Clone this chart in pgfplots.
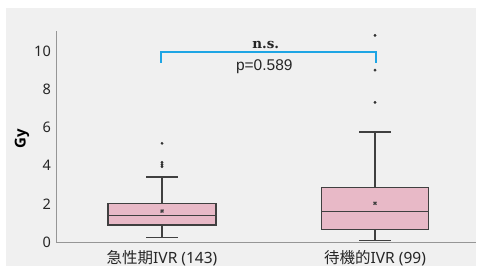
\documentclass[border=0pt]{standalone}
\usepackage{fontspec}
\setmainfont{Noto Sans}
\newfontfamily\cjk{Noto Sans CJK JP}
\newfontfamily\slabfont{DejaVu Serif}
\newfontfamily\pfont{Liberation Sans}
\newfontfamily\gyfont{Open Sans}
\usepackage{pgfplots}
\pgfplotsset{compat=1.18}
\usepgfplotslibrary{statistics}
\definecolor{bgcol}{RGB}{240,240,240}
\definecolor{axiscol}{RGB}{150,150,150}
\definecolor{boxedge}{RGB}{64,64,64}
\definecolor{boxfill}{RGB}{232,185,199}
\definecolor{dotcol}{RGB}{50,50,50}
\definecolor{bracketcol}{RGB}{30,165,228}
\begin{document}
\begin{tikzpicture}[x=1pt,y=1pt]
\useasboundingbox (0,0) rectangle (481,268);
\fill[white] (0,0) rectangle (481,268);
\fill[bgcol] (6,2) rectangle (476,260);
\begin{axis}[
  at={(56pt,26pt)}, anchor=south west,
  scale only axis, width=420pt, height=211pt,
  xmin=-0.4977, xmax=1.474, ymin=0, ymax=11.05,
  axis x line*=bottom, axis y line*=left,
  axis line style={-, draw=axiscol, line width=1pt},
  xtick={0,1},
  xticklabels={{\cjk 急性期}IVR (143), {\cjk 待機的}IVR (99)},
  ytick={0,2,4,6,8,10},
  major tick length=0pt,
  /pgf/number format/assume math mode=true,
  yticklabel style={inner sep=0pt, anchor=east, xshift=-5pt, font=\fontsize{14.5}{17}\selectfont, text=black!85},
  xticklabel style={inner sep=0pt, anchor=north, yshift=-8pt, font=\fontsize{15.5}{18}\selectfont, text=black!85},
  ylabel={Gy},
  ylabel style={at={(axis description cs:-0.081,0.49)}, anchor=center, font=\gyfont\bfseries\fontsize{15}{17}\selectfont},
  clip=false,
  boxplot/draw direction=y,
  boxplot/every average/.style={/tikz/mark=x, /tikz/mark options={draw=dotcol, line width=1pt, mark size=2.6pt}},
]
\addplot[boxplot prepared={draw position=0, lower whisker=0.23, lower quartile=0.89, median=1.38, average=1.62, upper quartile=2.0, upper whisker=3.4, box extend=0.507, whisker extend=0.15},
  draw=boxedge, fill=boxfill, line width=1.3pt,
  mark=*, mark options={fill=dotcol, draw=dotcol, line width=0.3pt, mark size=1.25pt}]
  table[row sep=\\, y index=0] {5.17\\ 4.17\\ 4.05\\ 3.95\\};
\addplot[boxplot prepared={draw position=1, lower whisker=0.09, lower quartile=0.66, median=1.59, average=2.03, upper quartile=2.84, upper whisker=5.76, box extend=0.5, whisker extend=0.15},
  draw=boxedge, fill=boxfill, line width=1.3pt,
  mark=*, mark options={fill=dotcol, draw=dotcol, line width=0.3pt, mark size=1.25pt}]
  table[row sep=\\, y index=0] {10.82\\ 9.0\\ 7.31\\};
\draw[bracketcol, line width=2pt, line join=miter] (axis cs:-0.006,9.39) -- (axis cs:-0.006,9.96) -- (axis cs:1.005,9.96) -- (axis cs:1.005,9.39);
\node[font=\slabfont\bfseries\fontsize{13.5}{15}\selectfont, text=black!85, inner sep=0pt] at (axis cs:0.487,10.31) {n.s.};
\node[font=\pfont\fontsize{15.5}{18}\selectfont, text=black!85, inner sep=0pt] at (axis cs:0.48,9.17) {p=0.589};
\end{axis}
\end{tikzpicture}
\end{document}
